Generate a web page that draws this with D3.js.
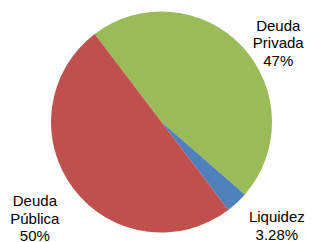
<!DOCTYPE html>
<html>
<head>
<meta charset="utf-8">
<script src="https://cdn.jsdelivr.net/npm/d3@7"></script>
<style>
  body { margin: 0; background: #fff; }
  svg { display: block; }
</style>
</head>
<body>
<div id="my_dataviz"></div>
<script>
// data (clockwise from the top-left edge of the green slice)
var categories = ["Deuda Privada", "Liquidez", "Deuda Pública"];
var values = [46.72, 3.28, 50.0];
var pctLabels = ["47%", "3.28%", "50%"];
var colors = ["#9bbb59", "#4f81bd", "#c0504d"];

var width = 312, height = 242;
var cx = 161.5, cy = 122, radius = 110.5;

// label layout: distance from centre and small angle nudge (degrees)
var labelDist = [141, 155, 159];
var labelNudge = [9, -5, 0];
var lineH = 17.5;

var svg = d3.select("#my_dataviz")
  .append("svg")
  .attr("width", width)
  .attr("height", height);

var g = svg.append("g")
  .attr("transform", "translate(" + cx + "," + cy + ")");

var start = -37.2 * Math.PI / 180;
var pie = d3.pie()
  .sort(null)
  .value(function(d) { return d; })
  .startAngle(start)
  .endAngle(start + 2 * Math.PI);

var arcs = pie(values);

var arc = d3.arc().innerRadius(0).outerRadius(radius);

g.selectAll("path")
  .data(arcs)
  .enter()
  .append("path")
  .attr("d", arc)
  .attr("fill", function(d, i) { return colors[i]; });

// labels: split category into lines, add percentage as last line
g.selectAll("text.lbl")
  .data(arcs)
  .enter()
  .append("text")
  .attr("class", "lbl")
  .attr("text-anchor", "middle")
  .style("font-family", "Liberation Sans, Arial, sans-serif")
  .style("font-size", "15px")
  .attr("fill", "#000")
  .each(function(d, i) {
    var a = (d.startAngle + d.endAngle) / 2 + labelNudge[i] * Math.PI / 180;
    var x = Math.sin(a) * labelDist[i];
    var y = -Math.cos(a) * labelDist[i];
    var lines = categories[i].split(" ").concat([pctLabels[i]]);
    if (categories[i] === "Liquidez") lines = [categories[i], pctLabels[i]];
    var y0 = y - (lines.length - 1) * lineH / 2 + 5.4;
    var t = d3.select(this);
    lines.forEach(function(s, k) {
      t.append("tspan")
        .attr("x", x)
        .attr("y", y0 + k * lineH)
        .text(s);
    });
  });
</script>
</body>
</html>
